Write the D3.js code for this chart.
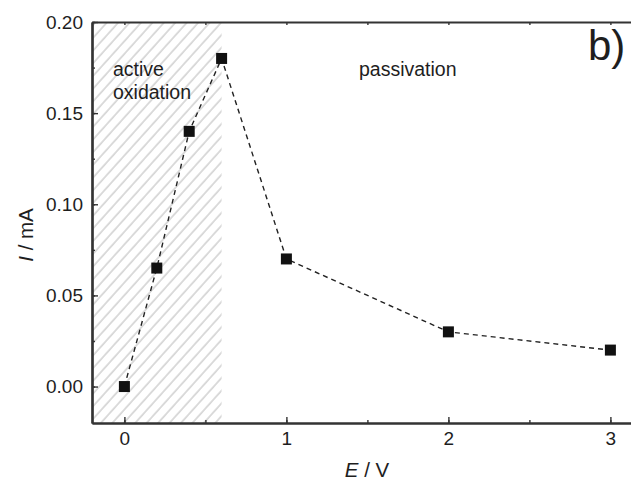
<!DOCTYPE html>
<html>
<head>
<meta charset="utf-8">
<script src="https://cdn.jsdelivr.net/npm/d3@7"></script>
<style>
	body { margin: 0; background: #fff; }
	svg { display: block; font-family: "Liberation Sans", Arial, sans-serif; }
</style>
</head>
<body>
<div id="chart"></div>
<script>
var potential = [0, 0.2, 0.4, 0.6, 1, 2, 3],
	current = [0, 0.065, 0.14, 0.18, 0.07, 0.03, 0.02],
	xTicks = [0, 1, 2, 3],
	yTicks = [0, 0.05, 0.10, 0.15, 0.20],
	activeRange = [-0.2, 0.6];

var width = 631,
	height = 484,
	margin = { top: 22, left: 92, bottom: 61 },
	axisColor = "#333",
	textColor = "#1e1e1e";

var data = potential.map(function(e, i) { return { e: e, i: current[i] }; });

var x = d3.scaleLinear().domain([-0.2, 3.2]).range([margin.left, margin.left + 3.4 * 162]),
	y = d3.scaleLinear().domain([-0.02, 0.20]).range([height - margin.bottom, margin.top]);

var svg = d3.select("#chart").append("svg")
	.attr("width", width)
	.attr("height", height);

// hatch pattern for the active oxidation region
var defs = svg.append("defs");
defs.append("pattern")
	.attr("id", "hatch")
	.attr("patternUnits", "userSpaceOnUse")
	.attr("width", 8.5)
	.attr("height", 10)
	.attr("patternTransform", "rotate(42)")
	.append("line")
	.attr("x1", 1).attr("y1", 0)
	.attr("x2", 1).attr("y2", 10)
	.attr("stroke", "#c4c4c4")
	.attr("stroke-width", 1.2);

svg.append("rect")
	.attr("x", x(activeRange[0]))
	.attr("y", y(0.20))
	.attr("width", x(activeRange[1]) - x(activeRange[0]))
	.attr("height", y(-0.02) - y(0.20))
	.attr("fill", "url(#hatch)");

// axes, ticks inward
function styleAxis(g) {
	g.select(".domain").attr("stroke", axisColor).attr("stroke-width", 2.2);
	g.selectAll(".tick line").attr("stroke", axisColor).attr("stroke-width", 1.4);
	g.selectAll(".tick text").attr("fill", textColor).attr("font-size", 19);
}

var yMinor = d3.range(-0.025, 0.2001, 0.025).filter(function(v) { return v > -0.02; }),
	xMinor = d3.range(0, 3.21, 0.5);

svg.append("g")
	.attr("transform", "translate(0," + y(-0.02) + ")")
	.call(d3.axisBottom(x).tickValues(xMinor).tickSize(-3).tickFormat("").tickSizeOuter(0))
	.call(styleAxis);
svg.append("g")
	.attr("transform", "translate(0," + y(-0.02) + ")")
	.call(d3.axisBottom(x).tickValues(xTicks).tickSize(-6).tickPadding(9).tickFormat(d3.format("d")).tickSizeOuter(0))
	.call(styleAxis);

svg.append("g")
	.attr("transform", "translate(0," + y(0.20) + ")")
	.call(d3.axisTop(x).tickValues(xMinor).tickSize(-3).tickFormat("").tickSizeOuter(0))
	.call(styleAxis);

svg.append("g")
	.attr("transform", "translate(" + x(-0.2) + ",0)")
	.call(d3.axisLeft(y).tickValues(yMinor).tickSize(-3).tickFormat("").tickSizeOuter(0))
	.call(styleAxis);
svg.append("g")
	.attr("transform", "translate(" + x(-0.2) + ",0)")
	.call(d3.axisLeft(y).tickValues(yTicks).tickSize(-6).tickPadding(9).tickFormat(d3.format(".2f")).tickSizeOuter(0))
	.call(styleAxis);

// data line and markers
svg.append("path")
	.datum(data)
	.attr("fill", "none")
	.attr("stroke", "#222")
	.attr("stroke-width", 1.4)
	.attr("stroke-dasharray", "5,4")
	.attr("d", d3.line()
		.x(function(d) { return x(d.e); })
		.y(function(d) { return y(d.i); }));

var msize = 11;
svg.append("g")
	.selectAll("rect")
	.data(data)
	.join("rect")
	.attr("x", function(d) { return x(d.e) - msize / 2; })
	.attr("y", function(d) { return y(d.i) - msize / 2; })
	.attr("width", msize)
	.attr("height", msize)
	.attr("fill", "#111");

// annotations
svg.append("text").attr("x", 113).attr("y", 76).attr("font-size", 19.5).attr("fill", textColor).text("active");
svg.append("text").attr("x", 113).attr("y", 99).attr("font-size", 19.5).attr("fill", textColor).text("oxidation");
svg.append("text").attr("x", 359).attr("y", 76).attr("font-size", 19.5).attr("fill", textColor).text("passivation");
svg.append("text").attr("x", 588).attr("y", 60).attr("font-size", 42).attr("fill", textColor).text("b)");

// axis titles
var xt = svg.append("text")
	.attr("x", 367)
	.attr("y", 477)
	.attr("text-anchor", "middle")
	.attr("font-size", 20.5)
	.attr("fill", textColor);
xt.append("tspan").attr("font-style", "italic").text("E");
xt.append("tspan").text(" / V");

var yt = svg.append("text")
	.attr("transform", "translate(33,235) rotate(-90)")
	.attr("text-anchor", "middle")
	.attr("font-size", 20.5)
	.attr("fill", textColor);
yt.append("tspan").attr("font-style", "italic").text("I");
yt.append("tspan").text(" / mA");
</script>
</body>
</html>
